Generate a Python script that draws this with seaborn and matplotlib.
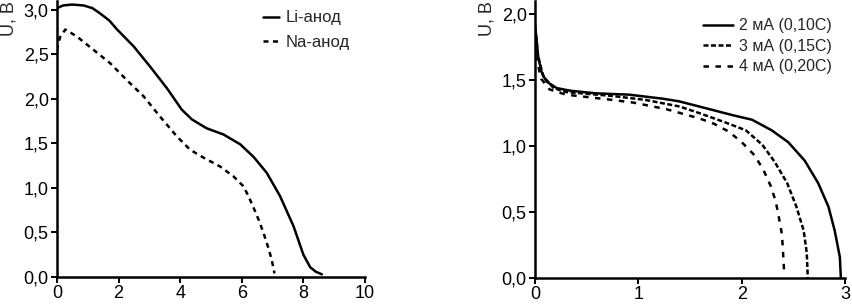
import numpy as np
import pandas as pd
import matplotlib
matplotlib.use("Agg")
import matplotlib.pyplot as plt
import seaborn as sns

# ---- left panel data ----
li_x = [0.0, 0.2, 0.49, 0.86, 1.15, 1.4, 1.7, 1.95, 2.49, 3.03, 3.57, 4.05, 4.38, 4.86, 5.41,
        5.95, 6.38, 6.81, 7.24, 7.68, 8.0, 8.22, 8.4, 8.6]
li_y = [3.02, 3.05, 3.06, 3.05, 3.02, 2.96, 2.88, 2.78, 2.59, 2.36, 2.12, 1.88, 1.77, 1.67, 1.60,
        1.49, 1.35, 1.17, 0.91, 0.57, 0.25, 0.11, 0.06, 0.03]
na_x = [0.0, 0.05, 0.11, 0.27, 0.65, 1.19, 1.73, 2.27, 2.81, 3.35, 3.89, 4.32, 4.76, 5.30, 5.73,
        6.05, 6.2, 6.38, 6.55, 6.70, 6.85, 6.95, 7.03, 7.06]
na_y = [2.55, 2.64, 2.70, 2.78, 2.70, 2.55, 2.40, 2.21, 2.03, 1.80, 1.58, 1.43, 1.34, 1.24, 1.13,
        1.02, 0.92, 0.78, 0.64, 0.50, 0.34, 0.22, 0.10, 0.04]

# ---- right panel data ----
c2_x = [0.0, 0.016, 0.03, 0.064, 0.11, 0.21, 0.34, 0.59, 0.91, 1.23, 1.39, 1.59, 1.91, 2.10,
        2.29, 2.45, 2.61, 2.74, 2.84, 2.90, 2.95, 2.96]
c2_y = [1.92, 1.80, 1.68, 1.56, 1.49, 1.44, 1.42, 1.40, 1.39, 1.36, 1.34, 1.30, 1.235, 1.20,
        1.12, 1.03, 0.89, 0.72, 0.54, 0.36, 0.16, 0.0]
c3_x = [0.01, 0.03, 0.08, 0.18, 0.30, 0.75, 1.07, 1.40, 1.59, 1.84, 2.04, 2.20, 2.32, 2.44,
        2.53, 2.60, 2.63, 2.64]
c3_y = [1.84, 1.68, 1.53, 1.44, 1.41, 1.38, 1.35, 1.30, 1.25, 1.18, 1.12, 1.01, 0.88, 0.72,
        0.54, 0.36, 0.19, 0.0]
c4_x = [0.01, 0.03, 0.06, 0.14, 0.30, 0.75, 0.95, 1.27, 1.59, 1.73, 1.875, 2.00, 2.125, 2.21,
        2.28, 2.33, 2.36, 2.39, 2.40, 2.41]
c4_y = [1.78, 1.61, 1.51, 1.43, 1.39, 1.35, 1.33, 1.28, 1.21, 1.17, 1.11, 1.03, 0.93, 0.82,
        0.70, 0.58, 0.46, 0.33, 0.20, 0.06]

left_labels = ["Li-анод", "Na-анод"]
right_labels = ["2 мА (0,10С)", "3 мА (0,15С)", "4 мА (0,20С)"]
left_xticks = [0, 2, 4, 6, 8, 10]
left_yticks = [0.0, 0.5, 1.0, 1.5, 2.0, 2.5, 3.0]
right_xticks = [0, 1, 2, 3]
right_yticks = [0.0, 0.5, 1.0, 1.5, 2.0]

sns.set_style("ticks")
plt.rcParams['font.family'] = ['Liberation Sans', 'DejaVu Sans']

fig = plt.figure(figsize=(8.53, 3.05), dpi=100)
ax1 = fig.add_axes([57/853, 28/305, 308/853, 276/305])
ax2 = fig.add_axes([535/853, 27/305, 310/853, 277/305])

lw = 1.8

def comma(v, dec=1):
    return f"{v:.{dec}f}".replace(".", ",")

# left
df_li = pd.DataFrame({"x": li_x, "y": li_y})
df_na = pd.DataFrame({"x": na_x, "y": na_y})
sns.lineplot(data=df_li, x="x", y="y", ax=ax1, color="black", lw=lw, sort=False,
             estimator=None, label=left_labels[0])
sns.lineplot(data=df_na, x="x", y="y", ax=ax1, color="black", lw=lw, sort=False,
             estimator=None, label=left_labels[1])
ax1.lines[1].set_dashes((2.0, 1.8))

# right
for xs, ys, lab in zip([c2_x, c3_x, c4_x], [c2_y, c3_y, c4_y], right_labels):
    sns.lineplot(data=pd.DataFrame({"x": xs, "y": ys}), x="x", y="y", ax=ax2, color="black",
                 lw=lw, sort=False, estimator=None, label=lab)
ax2.lines[1].set_dashes((2.0, 1.0))
ax2.lines[2].set_dashes((2.2, 2.6))

for ax, xt, yt, xl, yl in [(ax1, left_xticks, left_yticks, (0, 10), (0, 3.1)),
                           (ax2, right_xticks, right_yticks, (0, 3), (0, 2.1))]:
    ax.set_xlim(*xl)
    ax.set_ylim(*yl)
    ax.set_xticks(xt)
    ax.set_yticks(yt)
    ax.set_xticklabels([str(v) for v in xt], fontsize=13)
    ax.set_yticklabels([comma(v) for v in yt], fontsize=13)
    ax.set_xlabel("")
    ax.set_ylabel("")
    for s in ["top", "right"]:
        ax.spines[s].set_visible(False)
    for s in ["left", "bottom"]:
        ax.spines[s].set_linewidth(1.8)
        ax.spines[s].set_color("black")
    ax.tick_params(axis="both", direction="out", length=4, width=1.4, color="black",
                   pad=2, labelcolor="black")
    ax.text(-0.155, 1.0, "U, B", rotation=90, ha="center", va="top",
            transform=ax.transAxes, fontsize=13)

leg1 = ax1.legend(loc="upper right", bbox_to_anchor=(1.0, 1.02), frameon=False, fontsize=12,
                  handlelength=1.0, handletextpad=0.4, labelspacing=0.55)
leg2 = ax2.legend(loc="upper right", bbox_to_anchor=(1.005, 0.99), frameon=False, fontsize=11.5,
                  handlelength=1.9, handletextpad=0.4, labelspacing=0.35)

fig.savefig("out.png", dpi=100)
